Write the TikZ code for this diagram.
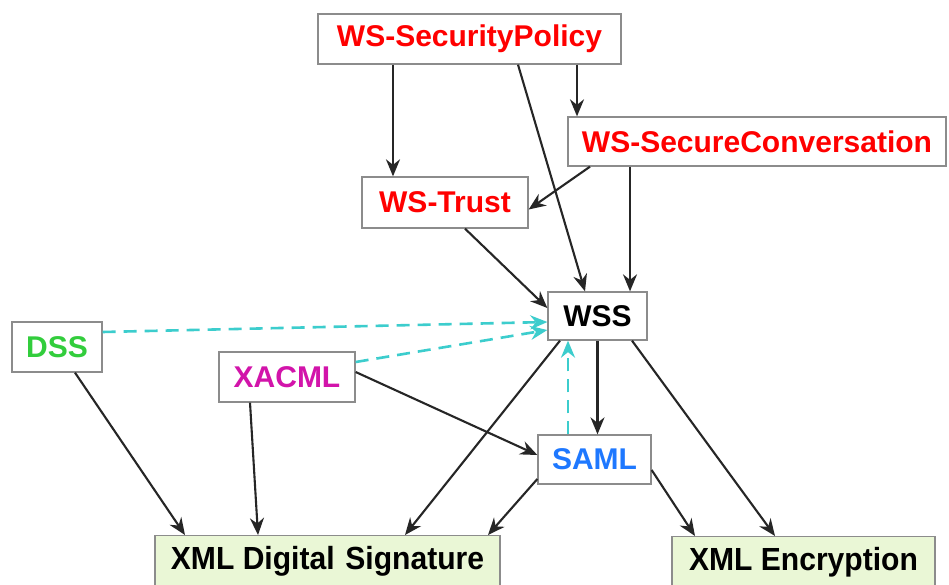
\documentclass[tikz,border=0pt]{standalone}
\usepackage{fontspec}
\setmainfont{Liberation Sans}
\newfontfamily\narrowfont[FakeStretch=0.94]{Liberation Sans}
\usepackage{tikz}
\usetikzlibrary{arrows.meta,positioning}

\definecolor{specred}{RGB}{255,0,0}
\definecolor{dssgreen}{RGB}{50,205,60}
\definecolor{xacmlpink}{RGB}{210,20,170}
\definecolor{samlblue}{RGB}{30,120,255}
\definecolor{linkcyan}{RGB}{60,205,205}
\definecolor{xmlgreen}{RGB}{234,247,214}
\definecolor{boxgray}{RGB}{140,140,140}

\tikzset{
	spec/.style={draw=boxgray,fill=white,line width=1.3pt,inner sep=0pt,
		font=\fontsize{30}{34}\selectfont\bfseries},
	xmlspec/.style={spec,fill=xmlgreen,font=\fontsize{32}{36}\narrowfont\bfseries},
	uses/.style={->,line width=2.1pt,draw=black!85},
	refers/.style={->,dash pattern=on 13pt off 8pt,line width=2.6pt,draw=linkcyan},
}

\begin{document}
\begin{tikzpicture}[x=1pt,y=-1pt,>={Stealth[length=17pt,width=14pt]}]
	\useasboundingbox[fill=white] (0,0) rectangle (949,585);
	
	\node[spec,text=specred,minimum width=303,minimum height=50] at (469.5,39) (SP) {WS-SecurityPolicy};
	\node[spec,text=specred,minimum width=378,minimum height=49] at (757,141.5) (SC) {WS-SecureConversation};
	\node[spec,text=specred,minimum width=166,minimum height=51] at (445,202.5) (WT) {WS-Trust};
	\node[spec,minimum width=99,minimum height=48] at (597.5,316) (WSS) {WSS};
	\node[spec,text=dssgreen,minimum width=90,minimum height=50] at (57,347) (DSS) {DSS};
	\node[spec,text=xacmlpink,minimum width=136,minimum height=50] at (287,377) (XA) {XACML};
	\node[spec,text=samlblue,minimum width=113,minimum height=49] at (594.5,459.5) (SAML) {SAML};
	
	\node[xmlspec,minimum width=345,minimum height=52,anchor=north] at (327.5,535) (DS) {XML Digital\,\,Signature};
	\node[xmlspec,minimum width=263,minimum height=52,anchor=north] at (803.5,536) (ENC) {XML Encryption};
	
	\draw[uses] ([xshift=-76.5]SP.south) -- ([xshift=-52]WT.north);
	\draw[uses] ([xshift=107.5]SP.south) -- ([xshift=-180]SC.north);
	\draw[uses] ([xshift=48.5]SP.south) -- ([xshift=-12.5]WSS.north);
	\draw[uses] ([xshift=-167]SC.south) -- ([yshift=-7]WT.east);
	\draw[uses] ([xshift=-127]SC.south) -- ([xshift=32.5]WSS.north);
	\draw[uses] ([xshift=20]WT.south) -- ([yshift=8]WSS.west);
	
	\draw[refers] ([yshift=15]DSS.east) -- ([yshift=-6]WSS.west);
	\draw[refers] ([yshift=15]XA.east) -- ([yshift=-14]WSS.west);
	\draw[refers] ([xshift=-26.5]SAML.north) -- ([xshift=-29.5]WSS.south);
	
	\draw[uses] ([xshift=0]WSS.south) -- ([xshift=3]SAML.north);
	\draw[uses] ([xshift=-37.5]WSS.south) -- ([xshift=77.5]DS.north);
	\draw[uses] ([xshift=34.5]WSS.south) -- ([xshift=-28.5]ENC.north);
	\draw[uses] ([yshift=5]XA.east) -- ([yshift=4.5]SAML.west);
	\draw[uses] ([xshift=-37]XA.south) -- ([xshift=-69.5]DS.north);
	\draw[uses] ([xshift=18]DSS.south) -- ([xshift=-142.5]DS.north);
	\draw[uses] ([yshift=-19.5]SAML.west) -- ([xshift=160.5]DS.north);
	\draw[uses] ([yshift=-10.5]SAML.east) -- ([xshift=-108.5]ENC.north);
\end{tikzpicture}
\end{document}
